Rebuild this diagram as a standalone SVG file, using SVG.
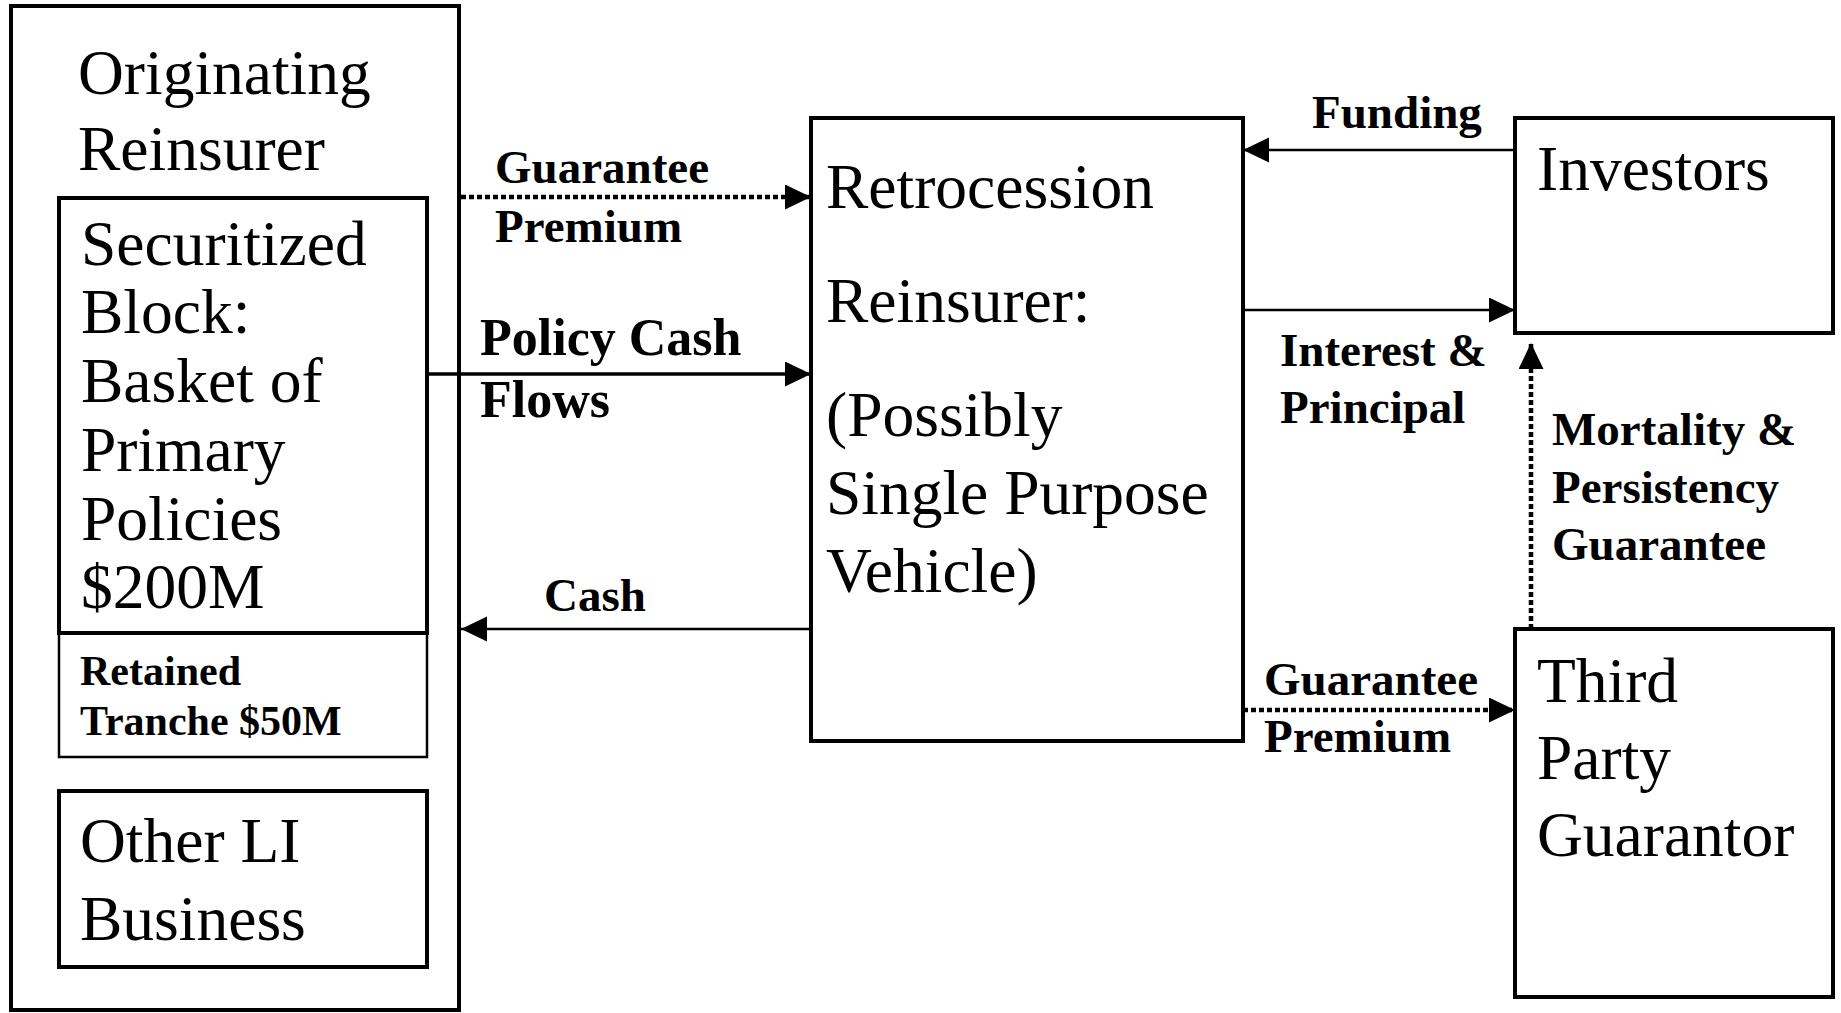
<svg xmlns="http://www.w3.org/2000/svg" width="1841" height="1013" viewBox="0 0 1841 1013">
  <style>
    .box { fill: none; stroke: #000; stroke-width: 4; }
    .thin { fill: none; stroke: #000; stroke-width: 2.5; }
    .big { font-family: "Liberation Serif", "Times New Roman", serif; font-size: 63.5px; fill: #000; }
    .lbl { font-family: "Liberation Serif", "Times New Roman", serif; font-size: 47px; font-weight: bold; fill: #000; }
    .solid { fill: none; stroke: #000; stroke-width: 2.5; }
    .dot { fill: none; stroke: #000; stroke-width: 4.5; stroke-dasharray: 5 3; }
  </style>
  <defs>
    <marker id="head" markerUnits="userSpaceOnUse" markerWidth="27" markerHeight="26" refX="26" refY="12.5" orient="auto">
      <path d="M0,0 L26,12.5 L0,25 Z" fill="#000"/>
    </marker>
  </defs>
  <rect width="1841" height="1013" fill="#fff"/>

  <!-- Originating reinsurer with its inner blocks -->
  <g id="originating-reinsurer">
    <rect class="box" x="11" y="6" width="448" height="1004"/>
    <text class="big" x="78" y="94">Originating</text>
    <text class="big" x="78" y="170">Reinsurer</text>
  </g>
  <g id="securitized-block">
    <rect class="box" x="59" y="198" width="368" height="435"/>
    <text class="big" x="81" y="265">Securitized</text>
    <text class="big" x="81" y="333">Block:</text>
    <text class="big" x="81" y="402">Basket of</text>
    <text class="big" x="81" y="471">Primary</text>
    <text class="big" x="81" y="540">Policies</text>
    <text class="big" x="81" y="608">$200M</text>
  </g>
  <g id="retained-tranche">
    <rect class="thin" x="59" y="633" width="368" height="124"/>
    <text class="lbl" x="80" y="685" style="font-size:42px">Retained</text>
    <text class="lbl" x="80" y="735" style="font-size:42px">Tranche $50M</text>
  </g>
  <g id="other-li-business">
    <rect class="box" x="59" y="791" width="368" height="176"/>
    <text class="big" x="80" y="862">Other LI</text>
    <text class="big" x="80" y="940">Business</text>
  </g>

  <!-- Retrocession reinsurer -->
  <g id="retrocession-reinsurer">
    <rect class="box" x="811" y="118" width="432" height="623"/>
    <text class="big" x="826" y="208">Retrocession</text>
    <text class="big" x="826" y="322">Reinsurer:</text>
    <text class="big" x="826" y="436">(Possibly</text>
    <text class="big" x="826" y="514">Single Purpose</text>
    <text class="big" x="826" y="592">Vehicle)</text>
  </g>

  <g id="investors">
    <rect class="box" x="1515" y="118" width="318" height="215"/>
    <text class="big" x="1537" y="190">Investors</text>
  </g>

  <g id="third-party-guarantor">
    <rect class="box" x="1515" y="629" width="318" height="368"/>
    <text class="big" x="1537" y="702">Third</text>
    <text class="big" x="1537" y="779">Party</text>
    <text class="big" x="1537" y="856">Guarantor</text>
  </g>

  <!-- Flows between parties -->
  <g id="connectors">
    <line class="dot" x1="461" y1="197" x2="811" y2="197" marker-end="url(#head)"/>
    <line class="solid" x1="427" y1="374" x2="811" y2="374" style="stroke-width:3.5" marker-end="url(#head)"/>
    <line class="solid" x1="811" y1="629" x2="461" y2="629" marker-end="url(#head)"/>
    <line class="solid" x1="1515" y1="150" x2="1243" y2="150" marker-end="url(#head)"/>
    <line class="solid" x1="1243" y1="310" x2="1515" y2="310" marker-end="url(#head)"/>
    <line class="dot" x1="1243" y1="710" x2="1515" y2="710" marker-end="url(#head)"/>
    <line class="dot" x1="1531" y1="629" x2="1531" y2="343" marker-end="url(#head)"/>

    <text class="lbl" x="495" y="183">Guarantee</text>
    <text class="lbl" x="495" y="242">Premium</text>
    <text class="lbl" x="480" y="355" style="font-size:52px">Policy Cash</text>
    <text class="lbl" x="480" y="417" style="font-size:52px">Flows</text>
    <text class="lbl" x="544" y="611">Cash</text>
    <text class="lbl" x="1312" y="128">Funding</text>
    <text class="lbl" x="1280" y="366">Interest &amp;</text>
    <text class="lbl" x="1280" y="423">Principal</text>
    <text class="lbl" x="1264" y="695">Guarantee</text>
    <text class="lbl" x="1264" y="752">Premium</text>
    <text class="lbl" x="1552" y="445">Mortality &amp;</text>
    <text class="lbl" x="1552" y="503">Persistency</text>
    <text class="lbl" x="1552" y="560">Guarantee</text>
  </g>
</svg>
